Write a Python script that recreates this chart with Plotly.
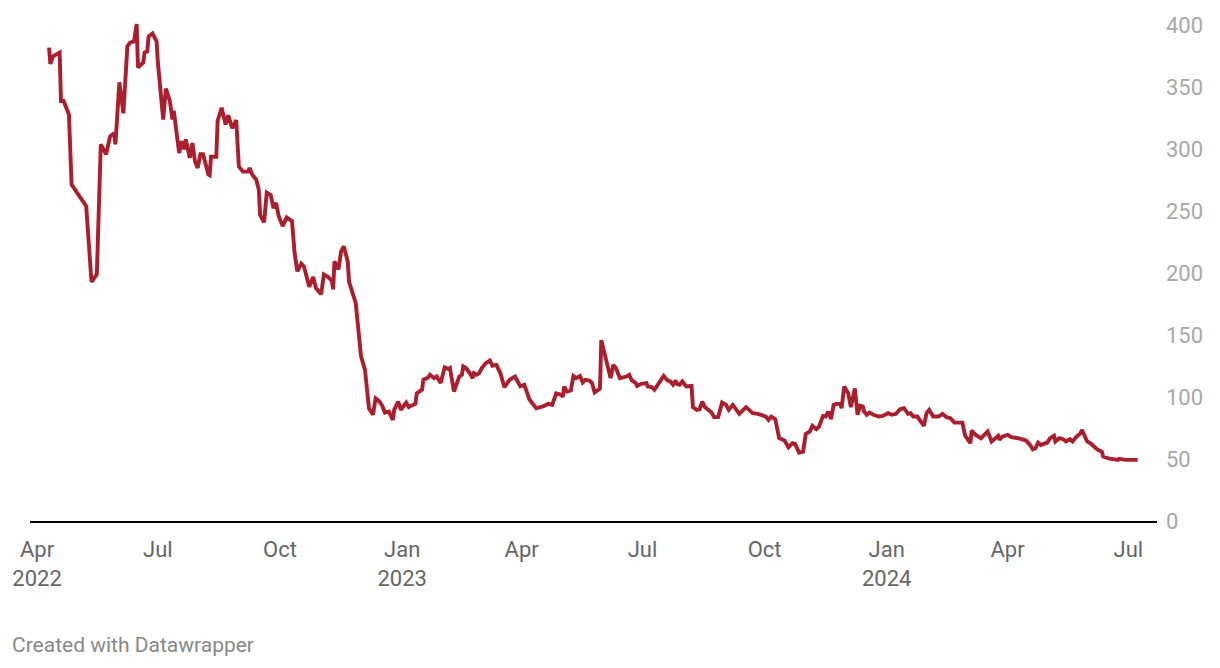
import plotly.graph_objects as go

dates = [
    "2022-04-10", "2022-04-11", "2022-04-13", "2022-04-18", "2022-04-19", "2022-04-21", "2022-04-25", "2022-04-27",
    "2022-05-08", "2022-05-12", "2022-05-16", "2022-05-19", "2022-05-23", "2022-05-26", "2022-05-29", "2022-05-30",
    "2022-06-02", "2022-06-05", "2022-06-08", "2022-06-10", "2022-06-13", "2022-06-15", "2022-06-16", "2022-06-20",
    "2022-06-21", "2022-06-23", "2022-06-24", "2022-06-27", "2022-06-30", "2022-07-01", "2022-07-05", "2022-07-07",
    "2022-07-10", "2022-07-12", "2022-07-13", "2022-07-14", "2022-07-17", "2022-07-19", "2022-07-21", "2022-07-22",
    "2022-07-25", "2022-07-27", "2022-07-29", "2022-07-31", "2022-08-02", "2022-08-04", "2022-08-06", "2022-08-08",
    "2022-08-09", "2022-08-10", "2022-08-14", "2022-08-15", "2022-08-18", "2022-08-21", "2022-08-23", "2022-08-26",
    "2022-08-29", "2022-08-31", "2022-09-03", "2022-09-07", "2022-09-08", "2022-09-10", "2022-09-13", "2022-09-15",
    "2022-09-16", "2022-09-19", "2022-09-21", "2022-09-24", "2022-09-26", "2022-09-28", "2022-09-30", "2022-10-03",
    "2022-10-06", "2022-10-10", "2022-10-12", "2022-10-14", "2022-10-17", "2022-10-19", "2022-10-23", "2022-10-26",
    "2022-10-28", "2022-11-01", "2022-11-03", "2022-11-06", "2022-11-09", "2022-11-10", "2022-11-11", "2022-11-14",
    "2022-11-16", "2022-11-18", "2022-11-21", "2022-11-22", "2022-11-27", "2022-12-01", "2022-12-04", "2022-12-07",
    "2022-12-10", "2022-12-12", "2022-12-15", "2022-12-17", "2022-12-19", "2022-12-22", "2022-12-25", "2022-12-26",
    "2022-12-29", "2022-12-31", "2023-01-04", "2023-01-06", "2023-01-09", "2023-01-11", "2023-01-12", "2023-01-16",
    "2023-01-17", "2023-01-20", "2023-01-22", "2023-01-25", "2023-01-27", "2023-01-30", "2023-02-02", "2023-02-05",
    "2023-02-06", "2023-02-09", "2023-02-13", "2023-02-15", "2023-02-16", "2023-02-18", "2023-02-21", "2023-02-23",
    "2023-02-24", "2023-02-26", "2023-02-28", "2023-03-02", "2023-03-05", "2023-03-08", "2023-03-10", "2023-03-13",
    "2023-03-16", "2023-03-19", "2023-03-23", "2023-03-27", "2023-03-31", "2023-04-03", "2023-04-07", "2023-04-10",
    "2023-04-12", "2023-04-17", "2023-04-21", "2023-04-24", "2023-04-27", "2023-05-01", "2023-05-02", "2023-05-03",
    "2023-05-05", "2023-05-08", "2023-05-10", "2023-05-12", "2023-05-15", "2023-05-17", "2023-05-19", "2023-05-22",
    "2023-05-24", "2023-05-26", "2023-05-30", "2023-05-31", "2023-06-04", "2023-06-07", "2023-06-09", "2023-06-11",
    "2023-06-14", "2023-06-19", "2023-06-21", "2023-06-23", "2023-06-26", "2023-06-27", "2023-06-30", "2023-07-04",
    "2023-07-05", "2023-07-08", "2023-07-10", "2023-07-14", "2023-07-17", "2023-07-20", "2023-07-22", "2023-07-24",
    "2023-07-26", "2023-07-27", "2023-07-29", "2023-07-31", "2023-08-03", "2023-08-07", "2023-08-08", "2023-08-11",
    "2023-08-13", "2023-08-15", "2023-08-17", "2023-08-22", "2023-08-24", "2023-08-27", "2023-08-30", "2023-09-02",
    "2023-09-04", "2023-09-07", "2023-09-10", "2023-09-12", "2023-09-17", "2023-09-22", "2023-09-26", "2023-09-30",
    "2023-10-02", "2023-10-04", "2023-10-06", "2023-10-09", "2023-10-12", "2023-10-16", "2023-10-19", "2023-10-22",
    "2023-10-24", "2023-10-27", "2023-10-30", "2023-11-01", "2023-11-04", "2023-11-06", "2023-11-09", "2023-11-11",
    "2023-11-14", "2023-11-16", "2023-11-18", "2023-11-20", "2023-11-22", "2023-11-24", "2023-11-27", "2023-11-28",
    "2023-11-30", "2023-12-03", "2023-12-05", "2023-12-08", "2023-12-10", "2023-12-12", "2023-12-14", "2023-12-15",
    "2023-12-17", "2023-12-19", "2023-12-22", "2023-12-26", "2023-12-29", "2024-01-02", "2024-01-05", "2024-01-08",
    "2024-01-11", "2024-01-14", "2024-01-17", "2024-01-19", "2024-01-21", "2024-01-24", "2024-01-28", "2024-01-29",
    "2024-01-31", "2024-02-02", "2024-02-05", "2024-02-09", "2024-02-12", "2024-02-15", "2024-02-18", "2024-02-21",
    "2024-02-24", "2024-02-27", "2024-02-29", "2024-03-04", "2024-03-05", "2024-03-08", "2024-03-12", "2024-03-17",
    "2024-03-20", "2024-03-23", "2024-03-25", "2024-03-26", "2024-03-28", "2024-04-01", "2024-04-04", "2024-04-09",
    "2024-04-15", "2024-04-18", "2024-04-20", "2024-04-22", "2024-04-24", "2024-04-26", "2024-04-29", "2024-05-01",
    "2024-05-03", "2024-05-06", "2024-05-07", "2024-05-10", "2024-05-13", "2024-05-15", "2024-05-18", "2024-05-20",
    "2024-05-23", "2024-05-26", "2024-05-27", "2024-05-29", "2024-05-31", "2024-06-03", "2024-06-06", "2024-06-08",
    "2024-06-11", "2024-06-12", "2024-06-16", "2024-06-19", "2024-06-23", "2024-06-24", "2024-06-29", "2024-07-08",
]

values = [
    382, 369, 375, 378, 339, 339, 328, 271.5,
    254, 193, 199, 304, 296, 310.5, 313, 304,
    354, 329, 383, 386, 387, 401, 366, 370,
    378, 379, 391, 393.5, 387, 370, 324, 349,
    339, 324, 331, 323, 297, 306.5, 300, 308,
    293, 305, 290, 285, 296, 296, 288, 279.6,
    279, 294, 294, 323, 333.5, 320, 327.5, 317,
    323.5, 286, 282, 282, 285, 279.6, 275.6, 267.5,
    247, 241, 265, 263, 252.6, 256.7, 246, 238,
    245, 242, 216, 201.5, 207.7, 205.5, 189, 197,
    188, 183, 199, 197, 194, 187, 209.5, 203,
    217.6, 221.7, 209.5, 193, 176, 133, 122, 91,
    85.7, 99, 96.4, 93, 87.5, 88.3, 81.6, 89.7,
    96.4, 89.7, 95.6, 91.9, 93.7, 94.5, 103, 106,
    114, 115.3, 118, 115.3, 116.6, 111.3, 124, 122.6,
    123.4, 104.5, 116.6, 118, 124.7, 123.4, 119.3, 115.3,
    119.3, 118, 119.3, 123.4, 127.4, 129.5, 125.3, 126,
    119.3, 108, 114, 116.6, 108.7, 110, 97.8, 93.7,
    91, 92.4, 94.5, 93.7, 103, 101.8, 100, 108.5,
    104.5, 105.3, 117, 115.3, 117, 111.8, 114, 113.4,
    111.3, 103.7, 107, 146, 130, 115.3, 126, 123.4,
    115.3, 116.6, 118, 113.4, 111.3, 109, 110.7, 111.3,
    108.5, 108, 105.9, 111.8, 117, 113.4, 112.6, 110,
    113.4, 110.7, 110, 112.6, 108.5, 109, 91.9, 89.7,
    90.2, 96.4, 91.9, 87.5, 83.8, 83.8, 95.6, 93.7,
    89.7, 93.7, 89.7, 86.5, 91.9, 87, 86.5, 84.8,
    84.3, 81.6, 84.3, 82.2, 66.8, 64.9, 59.5, 62.8,
    62.2, 55.2, 56, 70.3, 72.2, 76.8, 74.1, 76.2,
    84.8, 84.3, 88.3, 82.2, 93.7, 94.5, 94.5, 91,
    108.5, 103, 91.9, 107, 85.7, 93, 92.4, 88.3,
    85.7, 87.5, 85.7, 84.3, 84.8, 87, 85.7, 86.5,
    90.2, 91, 86.5, 87, 84.3, 84.3, 78.9, 76.8,
    87, 89.7, 84.3, 84.3, 86.5, 83.8, 83, 79.4,
    79.4, 79.4, 69, 62.8, 73, 69.5, 66.8, 72.2,
    64.2, 66.8, 68.7, 65.5, 68.1, 69.5, 67.6, 66.8,
    64.9, 61.4, 57.9, 58.7, 63.3, 61.4, 62.8, 63.3,
    66.8, 68.7, 64.2, 66.8, 66, 64.2, 66, 64.2,
    68.1, 70.9, 73.5, 68.1, 64.2, 62.2, 58.7, 57.4,
    56, 52, 50.6, 49.8, 49.3, 50.1, 49.3, 49.3,
]

x_tick_vals = ["2022-04-01", "2022-07-01", "2022-10-01", "2023-01-01", "2023-04-01",
               "2023-07-01", "2023-10-01", "2024-01-01", "2024-04-01", "2024-07-01"]
x_tick_text = ["Apr<br>2022", "Jul", "Oct", "Jan<br>2023", "Apr",
               "Jul", "Oct", "Jan<br>2024", "Apr", "Jul"]
y_tick_vals = [0, 50, 100, 150, 200, 250, 300, 350, 400]

fig = go.Figure()
fig.add_trace(go.Scatter(
    x=dates, y=values, mode="lines",
    line=dict(color="#a91f2d", width=3.9),
    hoverinfo="skip", showlegend=False,
))

fig.update_layout(
    width=1220, height=668,
    margin=dict(l=30, r=63, t=10, b=147),
    paper_bgcolor="white", plot_bgcolor="white",
    font=dict(family="Roboto, sans-serif"),
    xaxis=dict(
        type="date",
        range=["2022-03-26 16:00", "2024-07-22 14:00"],
        tickvals=x_tick_vals, ticktext=x_tick_text,
        showgrid=False, zeroline=False,
        showline=True, linecolor="#000000", linewidth=2,
        ticks="", ticklabelstandoff=8,
        tickfont=dict(size=22, color="#666666", family="Roboto"),
        fixedrange=True,
    ),
    yaxis=dict(
        side="right",
        range=[0, 412.4],
        tickvals=y_tick_vals,
        showgrid=False, zeroline=False, showline=False,
        ticks="", ticklabelstandoff=8,
        tickfont=dict(size=22, color="#a8a8a8", family="Roboto"),
        fixedrange=True,
    ),
    annotations=[dict(
        text="Created with Datawrapper",
        xref="paper", yref="paper",
        x=-20/1127, y=(521-645)/511,
        xanchor="left", yanchor="middle",
        showarrow=False,
        font=dict(size=21, color="#888888", family="Roboto"),
    )],
)

fig.write_html("out.html")
